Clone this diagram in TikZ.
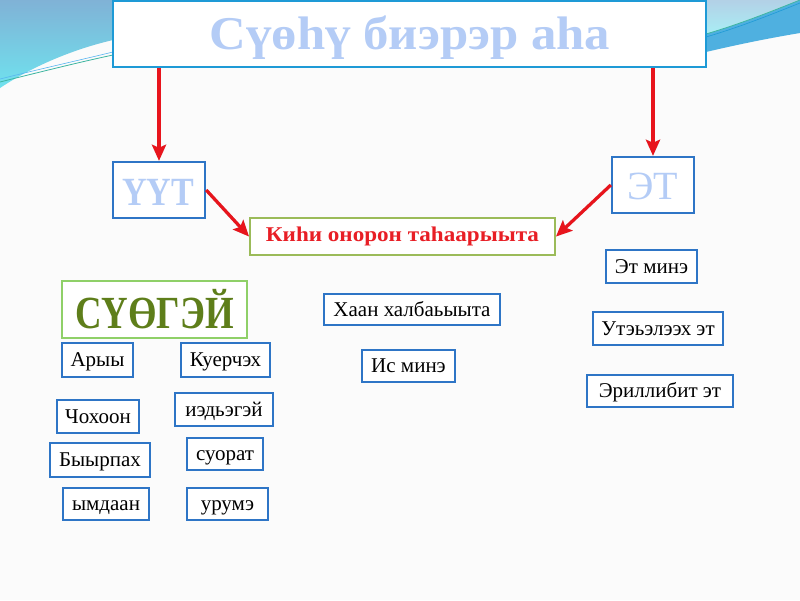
\documentclass[tikz,border=0pt]{standalone}
\usepackage{fontspec}
\setmainfont{Liberation Serif}
\usetikzlibrary{arrows.meta,shadows}
\definecolor{boxblue}{HTML}{2E75C6}
\definecolor{titleblue}{HTML}{1E9AD6}
\definecolor{paleblue}{HTML}{B4CCF6}
\definecolor{arrowred}{HTML}{E8141C}
\definecolor{kisired}{HTML}{E81E25}
\definecolor{kisigreen}{HTML}{9BBB59}
\definecolor{suogreen}{HTML}{8FD068}
\definecolor{olive}{HTML}{5E7E1A}
\definecolor{skytop}{HTML}{80B2D6}
\definecolor{skybot}{HTML}{6FE2EE}
\definecolor{tealline}{HTML}{3DB5A0}
\definecolor{bandblue}{HTML}{4FB0E0}
\tikzset{
  pbox/.style={draw=boxblue, line width=2.4pt, fill=white, inner sep=0pt,
    font=\fontsize{21}{23}\selectfont, text=black,
    text height=13pt, text depth=0pt,
    drop shadow={shadow xshift=1.2pt, shadow yshift=-1.2pt, opacity=0.25}},
  redarrow/.style={draw=arrowred, line width=3.2pt,
    -{Stealth[length=16pt,width=14pt,inset=3pt]}},
  arrowshadow/.style={draw=black!70, opacity=0.25, line width=3.2pt,
    -{Stealth[length=16pt,width=14pt,inset=3pt]}}
}
\begin{document}
\begin{tikzpicture}[x=1pt,y=-1pt]
% background
\fill[white!97!gray] (0,0) rectangle (800,600);
\useasboundingbox (0,0) rectangle (800,600);
% top-left swoosh
\shade[top color=skytop, bottom color=skybot]
  (0,0) -- (113,0) -- (113,40) .. controls (70,50) and (30,68) .. (0,88) -- cycle;
\draw[tealline, line width=0.8pt] (0,82) .. controls (40,72) and (80,62) .. (113,55);
\draw[skybot!80!blue, line width=0.6pt] (0,79) .. controls (40,69) and (80,60) .. (113,52);
% top-right swoosh
\fill[bandblue] (706,0) -- (800,0) -- (800,33) .. controls (770,38) and (740,44) .. (706,52) -- cycle;
\shade[top color=skytop!60!white, bottom color=skybot!60!white]
  (706,0) -- (800,0) -- (800,0) .. controls (770,12) and (740,24) .. (706,34) -- cycle;
\draw[tealline, line width=0.8pt] (706,34) .. controls (740,24) and (770,12) .. (800,0);
\draw[titleblue, line width=0.6pt] (706,37) .. controls (740,27) and (770,15) .. (800,3);

% title
\node[draw=titleblue, line width=2.5pt, fill=white, minimum width=593pt, minimum height=66pt, inner sep=0pt,
  drop shadow={shadow xshift=1pt, shadow yshift=-1pt, opacity=0.2}]
  (title) at (409.5,34) {};
\node[text=paleblue, font=\bfseries\fontsize{47}{50}\selectfont] at (410,38)
  {\scalebox{1.08}[1]{Сүөһү биэрэр аһа}};

% level 2
\node[pbox, minimum width=92pt, minimum height=56pt] (uut) at (159,190) {};
\node[text=paleblue, font=\bfseries\fontsize{40}{42}\selectfont] at (158,192) {\scalebox{0.85}[1]{ҮҮТ}};
\node[pbox, minimum width=82pt, minimum height=56pt] (et) at (653,185) {};
\node[text=paleblue, font=\fontsize{40}{42}\selectfont] at (653,186) {ЭТ};

\node[draw=kisigreen, line width=2pt, fill=white, inner sep=0pt,
  minimum width=305pt, minimum height=37pt, text=kisired,
  font=\bfseries\fontsize{21}{23}\selectfont,
  drop shadow={shadow xshift=1pt, shadow yshift=-1pt, opacity=0.2}]
  (kisi) at (402.5,236.5) {\scalebox{1.1}[1]{Киһи онорон таһаарыыта}};

% arrows
\begin{scope}[shift={(1.5,1.5)}]
\draw[arrowshadow] (uut.north |- title.south) -- (uut.north);
\draw[arrowshadow] (et.north |- title.south) -- (et.north);
\draw[arrowshadow] (uut.east) -- (kisi.west);
\draw[arrowshadow] (et.west) -- (kisi.east);
\end{scope}
\draw[redarrow] (uut.north |- title.south) -- (uut.north);
\draw[redarrow] (et.north |- title.south) -- (et.north);
\draw[redarrow] (uut.east) -- (kisi.west);
\draw[redarrow] (et.west) -- (kisi.east);

% СҮӨГЭЙ
\node[draw=suogreen, line width=2pt, fill=white, inner sep=0pt,
  minimum width=185pt, minimum height=57pt, text=olive,
  font=\bfseries\fontsize{46}{48}\selectfont]
  (suogei) at (154.5,309.5) {\scalebox{0.8}[1]{СҮӨГЭЙ}};

% left column
\node[pbox, minimum width=71pt, minimum height=34pt] (aryy) at (97.5,360) {Арыы};
\node[pbox, minimum width=89pt, minimum height=34pt] (kuer) at (225.5,360) {Куерчэх};
\node[pbox, minimum width=82pt, minimum height=33pt] (chokh) at (98,416.5) {Чохоон};
\node[pbox, minimum width=98pt, minimum height=33pt] (ied) at (224,409.5) {иэдьэгэй};
\node[pbox, minimum width=100pt, minimum height=34pt] (byyr) at (100,460) {Быырпах};
\node[pbox, minimum width=76pt, minimum height=32pt] (suor) at (225,454) {суорат};
\node[pbox, minimum width=86pt, minimum height=32pt] (ymd) at (106,504) {ымдаан};
\node[pbox, minimum width=81pt, minimum height=32pt] (urum) at (227.5,504) {урумэ};

% middle
\node[pbox, minimum width=176pt, minimum height=31pt] (khaan) at (412,309.5) {Хаан халбаьыыта};
\node[pbox, minimum width=93pt, minimum height=32pt] (is) at (408.5,366) {Ис минэ};

% right
\node[pbox, minimum width=91pt, minimum height=33pt] (etmine) at (651.5,266.5) {Эт минэ};
\node[pbox, minimum width=130pt, minimum height=33pt] (utes) at (658,328.5) {Утэьэлээх эт};
\node[pbox, minimum width=146pt, minimum height=32pt] (erill) at (660,391) {Эриллибит эт};
\end{tikzpicture}
\end{document}
